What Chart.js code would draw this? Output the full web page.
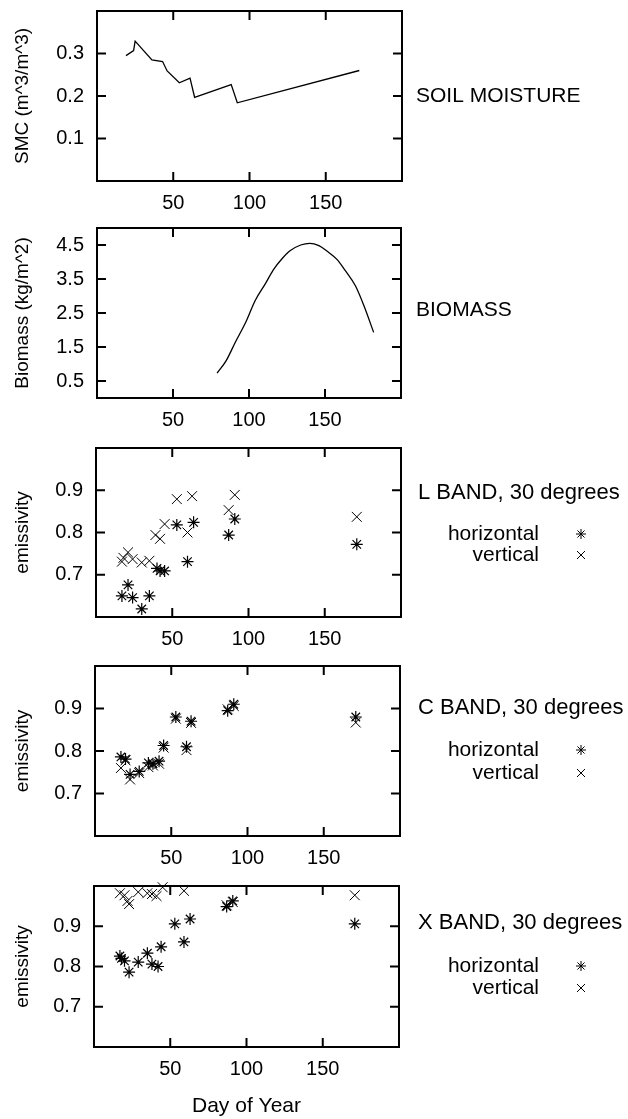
<!DOCTYPE html>
<html>
<head>
<meta charset="utf-8">
<script src="https://cdn.jsdelivr.net/npm/chart.js@4.4.1/dist/chart.umd.min.js"></script>
<style>
  html, body { margin: 0; padding: 0; background: #fff; }
  body { width: 628px; height: 1119px; position: relative; overflow: hidden; }
  .panel { position: absolute; left: 0; width: 628px; }
</style>
</head>
<body>
<div class="panel" id="p1"><canvas id="c1"></canvas></div>
<div class="panel" id="p2"><canvas id="c2"></canvas></div>
<div class="panel" id="p3"><canvas id="c3"></canvas></div>
<div class="panel" id="p4"><canvas id="c4"></canvas></div>
<div class="panel" id="p5"><canvas id="c5"></canvas></div>
<script>
// --- data (day of year / value) ---
const xTicks = [50, 100, 150];

const smcDays = [19, 24, 25, 36, 43, 46, 54, 61, 64, 88, 92, 172];
const smcVals = [0.295, 0.307, 0.329, 0.285, 0.281, 0.259, 0.231, 0.242, 0.197, 0.227, 0.184, 0.260];

const bioDays = [79, 85, 91, 98, 104, 111, 116, 122, 127, 134, 140, 146, 151, 158, 163, 170, 176, 182];
const bioVals = [0.73, 1.10, 1.64, 2.24, 2.86, 3.38, 3.77, 4.11, 4.33, 4.50, 4.55, 4.48, 4.33, 4.07, 3.77, 3.30, 2.67, 1.93];

// L band
const lhDays = [17, 21, 24, 30, 35, 40, 42, 45, 53, 60, 64, 87, 91, 171];
const lhVals = [0.650, 0.676, 0.646, 0.619, 0.650, 0.715, 0.709, 0.709, 0.818, 0.731, 0.824, 0.794, 0.832, 0.772];
const lvDays = [17, 18, 21, 24, 30, 35, 39, 42, 45, 53, 60, 63, 87, 91, 171];
const lvVals = [0.731, 0.740, 0.753, 0.737, 0.729, 0.733, 0.794, 0.785, 0.820, 0.879, 0.800, 0.886, 0.853, 0.889, 0.837];

// C band
const chDays = [17, 20, 23, 29, 35, 38, 42, 45, 53, 60, 63, 87, 91, 171];
const chVals = [0.786, 0.781, 0.745, 0.752, 0.772, 0.770, 0.776, 0.813, 0.880, 0.810, 0.870, 0.895, 0.910, 0.880];
const cvDays = [17, 20, 23, 29, 35, 38, 42, 45, 53, 60, 63, 87, 91, 171];
const cvVals = [0.760, 0.778, 0.733, 0.748, 0.762, 0.766, 0.770, 0.808, 0.876, 0.802, 0.866, 0.898, 0.906, 0.867];

// X band
const xhDays = [17, 18, 20, 23, 29, 35, 38, 42, 44, 53, 59, 63, 87, 91, 171];
const xhVals = [0.826, 0.820, 0.814, 0.786, 0.811, 0.833, 0.806, 0.800, 0.849, 0.906, 0.861, 0.918, 0.949, 0.963, 0.906];
const xvDays = [17, 20, 22, 23, 29, 35, 38, 41, 45, 59, 87, 91, 171];
const xvVals = [0.982, 0.977, 0.963, 0.955, 0.985, 0.982, 0.980, 0.975, 0.997, 0.988, 0.952, 0.960, 0.977];

const FONT = '"Liberation Sans", Arial, Helvetica, sans-serif';
const pts = (xs, ys) => xs.map((d, i) => ({ x: d, y: ys[i] }));

function marker(ctx, style, x, y, r) {
  ctx.beginPath();
  if (style === 'star') {
    ctx.moveTo(x - r, y); ctx.lineTo(x + r, y);
    ctx.moveTo(x, y - r); ctx.lineTo(x, y + r);
  }
  const d = style === 'star' ? r * 0.707 : r;
  ctx.moveTo(x - d, y - d); ctx.lineTo(x + d, y + d);
  ctx.moveTo(x - d, y + d); ctx.lineTo(x + d, y - d);
  ctx.stroke();
}

// gnuplot-ish frame: full border + inward ticks mirrored on all sides, plus the labels on the right
const framePlugin = {
  id: 'frame',
  afterDraw(chart, args, opts) {
    const { ctx, chartArea: a } = chart;
    const xs = chart.scales.x, ys = chart.scales.y;
    ctx.save();
    ctx.strokeStyle = '#000';
    ctx.lineWidth = 2;
    ctx.strokeRect(a.left, a.top, a.right - a.left, a.bottom - a.top);
    ctx.beginPath();
    xs.ticks.forEach(t => {
      const px = xs.getPixelForValue(t.value);
      ctx.moveTo(px, a.bottom); ctx.lineTo(px, a.bottom - 9);
      ctx.moveTo(px, a.top); ctx.lineTo(px, a.top + 9);
    });
    ys.ticks.forEach(t => {
      const py = ys.getPixelForValue(t.value);
      ctx.moveTo(a.left, py); ctx.lineTo(a.left + 9, py);
      ctx.moveTo(a.right, py); ctx.lineTo(a.right - 9, py);
    });
    ctx.stroke();

    const off = opts.offset || 0;
    ctx.fillStyle = '#000';
    ctx.font = (opts.titleSize || 21) + 'px ' + FONT;
    ctx.textBaseline = 'middle';
    ctx.textAlign = 'left';
    ctx.fillText(opts.title, opts.titleX, opts.titleY - off);
    if (opts.legend) {
      ctx.font = '21px ' + FONT;
      ctx.textAlign = 'right';
      ctx.fillText('horizontal', 539, opts.hY - off);
      ctx.fillText('vertical', 539, opts.vY - off);
      ctx.lineWidth = 1;
      marker(ctx, 'star', 581, opts.hY - off, 5);
      marker(ctx, 'crossRot', 581, opts.vY - off, 4);
    }
    ctx.restore();
  }
};

function makePanel(cfg) {
  const divTop = cfg.boxTop - cfg.padTop;
  const h = cfg.padTop + (cfg.boxBottom - cfg.boxTop) + cfg.axisH;
  const div = document.getElementById(cfg.div);
  div.style.top = divTop + 'px';
  div.style.height = h + 'px';
  const cv = document.getElementById(cfg.canvas);
  cv.width = 628;
  cv.height = h;

  return new Chart(cv, {
    type: 'scatter',
    data: { datasets: cfg.datasets },
    options: {
      responsive: false,
      animation: false,
      events: [],
      layout: { padding: { left: 0, top: cfg.padTop, right: 628 - cfg.right, bottom: 0 } },
      plugins: {
        legend: { display: false },
        tooltip: { enabled: false },
        frame: Object.assign({ offset: divTop }, cfg.side)
      },
      scales: {
        x: {
          type: 'linear', min: 0, max: 200,
          afterBuildTicks: s => { s.ticks = xTicks.map(v => ({ value: v })); },
          afterFit: s => { s.height = cfg.axisH; s.paddingLeft = 0; s.paddingRight = 0; },
          grid: { display: false, drawTicks: false },
          border: { display: false },
          ticks: { color: '#000', font: { family: FONT, size: 20 }, padding: 10, maxRotation: 0 },
          title: cfg.xTitle ? {
            display: true, text: cfg.xTitle, color: '#000',
            font: { family: FONT, size: 21, lineHeight: 1 }, padding: { top: 0, bottom: 2 }
          } : { display: false }
        },
        y: {
          type: 'linear', min: cfg.yMin, max: cfg.yMax,
          afterBuildTicks: s => { s.ticks = cfg.yTicks.map(v => ({ value: v })); },
          afterFit: s => { s.width = cfg.left; s.paddingTop = 0; s.paddingBottom = 0; },
          grid: { display: false, drawTicks: false },
          border: { display: false },
          ticks: { color: '#000', font: { family: FONT, size: 20 }, padding: 13, callback: v => v.toFixed(1) },
          title: {
            display: true, text: cfg.yTitle, color: '#000',
            font: { family: FONT, size: 19, lineHeight: 1.2 }, padding: { top: 11, bottom: 0 }
          }
        }
      }
    },
    plugins: [framePlugin]
  });
}

const lineSet = (xs, ys, smooth) => ({
  data: pts(xs, ys), showLine: true, borderColor: '#000', borderWidth: 1.3,
  pointRadius: 0, tension: smooth ? 0.4 : 0, cubicInterpolationMode: smooth ? 'monotone' : 'default', fill: false
});
const starSet = (xs, ys) => ({
  data: pts(xs, ys), showLine: false, pointStyle: 'star', pointRadius: 6,
  borderColor: '#000', backgroundColor: 'rgba(0,0,0,0)', pointBorderWidth: 1.2, clip: false
});
const crossSet = (xs, ys) => ({
  data: pts(xs, ys), showLine: false, pointStyle: 'crossRot', pointRadius: 7,
  borderColor: '#000', backgroundColor: 'rgba(0,0,0,0)', pointBorderWidth: 1, clip: false
});

makePanel({
  div: 'p1', canvas: 'c1', boxTop: 11, boxBottom: 181, padTop: 11, axisH: 38, left: 97, right: 402,
  yMin: 0, yMax: 0.4, yTicks: [0.1, 0.2, 0.3], yTitle: 'SMC (m^3/m^3)',
  datasets: [lineSet(smcDays, smcVals, false)],
  side: { title: 'SOIL MOISTURE', titleX: 416, titleY: 96, legend: false }
});

makePanel({
  div: 'p2', canvas: 'c2', boxTop: 228, boxBottom: 398, padTop: 10, axisH: 38, left: 97, right: 401,
  yMin: 0, yMax: 5, yTicks: [0.5, 1.5, 2.5, 3.5, 4.5], yTitle: 'Biomass (kg/m^2)',
  datasets: [lineSet(bioDays, bioVals, true)],
  side: { title: 'BIOMASS', titleX: 416, titleY: 310, legend: false }
});

makePanel({
  div: 'p3', canvas: 'c3', boxTop: 448, boxBottom: 617, padTop: 10, axisH: 38, left: 96, right: 401,
  yMin: 0.6, yMax: 1.0, yTicks: [0.7, 0.8, 0.9], yTitle: 'emissivity',
  datasets: [starSet(lhDays, lhVals), crossSet(lvDays, lvVals)],
  side: { title: 'L BAND, 30 degrees', titleSize: 22, titleX: 418, titleY: 493, legend: true, hY: 534, vY: 555 }
});

makePanel({
  div: 'p4', canvas: 'c4', boxTop: 666, boxBottom: 836, padTop: 10, axisH: 38, left: 95, right: 400,
  yMin: 0.6, yMax: 1.0, yTicks: [0.7, 0.8, 0.9], yTitle: 'emissivity',
  datasets: [starSet(chDays, chVals), crossSet(cvDays, cvVals)],
  side: { title: 'C BAND, 30 degrees', titleSize: 22, titleX: 418, titleY: 708, legend: true, hY: 750, vY: 773 }
});

makePanel({
  div: 'p5', canvas: 'c5', boxTop: 886, boxBottom: 1047, padTop: 10, axisH: 72, left: 94, right: 399,
  yMin: 0.6, yMax: 1.0, yTicks: [0.7, 0.8, 0.9], yTitle: 'emissivity', xTitle: 'Day of Year',
  datasets: [starSet(xhDays, xhVals), crossSet(xvDays, xvVals)],
  side: { title: 'X BAND, 30 degrees', titleSize: 22, titleX: 418, titleY: 923, legend: true, hY: 966, vY: 988 }
});
</script>
</body>
</html>
